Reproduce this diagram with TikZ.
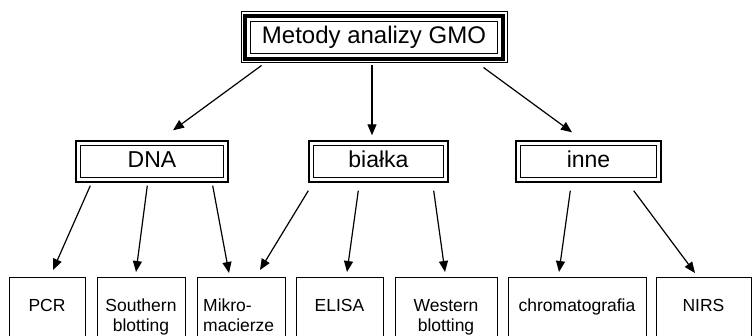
\documentclass[tikz,border=0pt]{standalone}
\usepackage{fontspec}
\setmainfont{Liberation Sans}
\usetikzlibrary{arrows.meta}
\begin{document}
\begin{tikzpicture}[x=1pt,y=-1pt,
  topbox/.style={draw, line width=1pt, minimum width=266pt, minimum height=51pt, inner sep=0pt,
    text height=18pt, text depth=5pt, font=\fontsize{24}{28}\selectfont},
  midbox/.style={draw, line width=1.4pt, minimum height=41pt, inner sep=0pt,
    text height=17pt, text depth=5pt, font=\fontsize{23}{27}\selectfont},
  botbox/.style={draw, line width=1pt, minimum height=80pt, inner sep=0pt, anchor=north},
  lbl/.style={font=\fontsize{17.5}{20}\selectfont, inner sep=0pt, anchor=base},
  arr/.style={line width=1.2pt, -{Triangle[length=11pt,width=9pt]}}
]
\clip (0,0) rectangle (752,336);
\fill[white] (0,0) rectangle (752,336);

% top
\node[topbox] (T) at (374,37.5) {Metody analizy GMO};
\draw[line width=4.5pt] ([shift={(4.5,-4.5)}]T.south west) rectangle ([shift={(-4.5,4.5)}]T.north east);
\draw[line width=1pt] ([shift={(10,-10)}]T.south west) rectangle ([shift={(-10,10)}]T.north east);

% middle
\node[midbox, minimum width=152pt] (dna) at (152,161.5) {DNA};
\node[midbox, minimum width=139pt] (bialka) at (378.5,161.5) {białka};
\node[midbox, minimum width=145pt] (inne) at (588.5,161.5) {inne};
\foreach \b in {dna,bialka,inne}{
  \draw[line width=1.4pt] ([shift={(5,-5)}]\b.south west) rectangle ([shift={(-5,5)}]\b.north east);
}

% bottom boxes
\node[botbox, minimum width=76pt] (pcr) at (47,277) {};
\node[botbox, minimum width=88pt] (south) at (141,277) {};
\node[botbox, minimum width=88pt] (mikro) at (241,277) {};
\node[botbox, minimum width=87pt] (elisa) at (339.5,277) {};
\node[botbox, minimum width=102pt] (west) at (446,277) {};
\node[botbox, minimum width=138pt] (chrom) at (577,277) {};
\node[botbox, minimum width=95pt] (nirs) at (703.5,277) {};

% labels
\node[lbl] (pcrt) at (47,312) {PCR};
\node[lbl] (southt) at (141,312) {\parbox[t]{84pt}{\centering Southern\\blotting}};
\node[lbl, anchor=base west] (mikrot) at (203,312) {\parbox[t]{84pt}{\raggedright Mikro-\\macierze}};
\node[lbl] (elisat) at (339.5,312) {ELISA};
\node[lbl] (westt) at (446,312) {\parbox[t]{98pt}{\centering Western\\blotting}};
\node[lbl] (chromt) at (577,312) {chromatografia};
\node[lbl] (nirst) at (703.5,312) {NIRS};

% arrows top
\draw[arr] ([shift={(21,2)}]T.south west) -- ([shift={(21,-10)}]dna.north);
\draw[arr] ([shift={(-2,2)}]T.south) -- ([shift={(-6.5,-5)}]bialka.north);
\draw[arr] ([shift={(-24,4)}]T.south east) -- ([shift={(-16.5,-8)}]inne.north);

% arrows DNA
\draw[arr] ([shift={(15,3)}]dna.south west) -- ([shift={(6,-7)}]pcr.north);
\draw[arr] ([shift={(72,3)}]dna.south west) -- ([shift={(-5,-5)}]south.north);
\draw[arr] ([shift={(-16,3)}]dna.south east) -- ([shift={(-12,-4)}]mikro.north);

% arrows bialka
\draw[arr] ([shift={(0,8)}]bialka.south west) -- ([shift={(19,-7)}]mikro.north);
\draw[arr] ([shift={(50,8)}]bialka.south west) -- ([shift={(7.5,-5)}]elisa.north);
\draw[arr] ([shift={(-15,8)}]bialka.south east) -- ([shift={(-1,-5)}]west.north);

% arrows inne
\draw[arr] ([shift={(55,8)}]inne.south west) -- ([shift={(-18,-5)}]chrom.north);
\draw[arr] ([shift={(-28,8)}]inne.south east) -- ([shift={(-8.5,-4)}]nirs.north);
\end{tikzpicture}
\end{document}
